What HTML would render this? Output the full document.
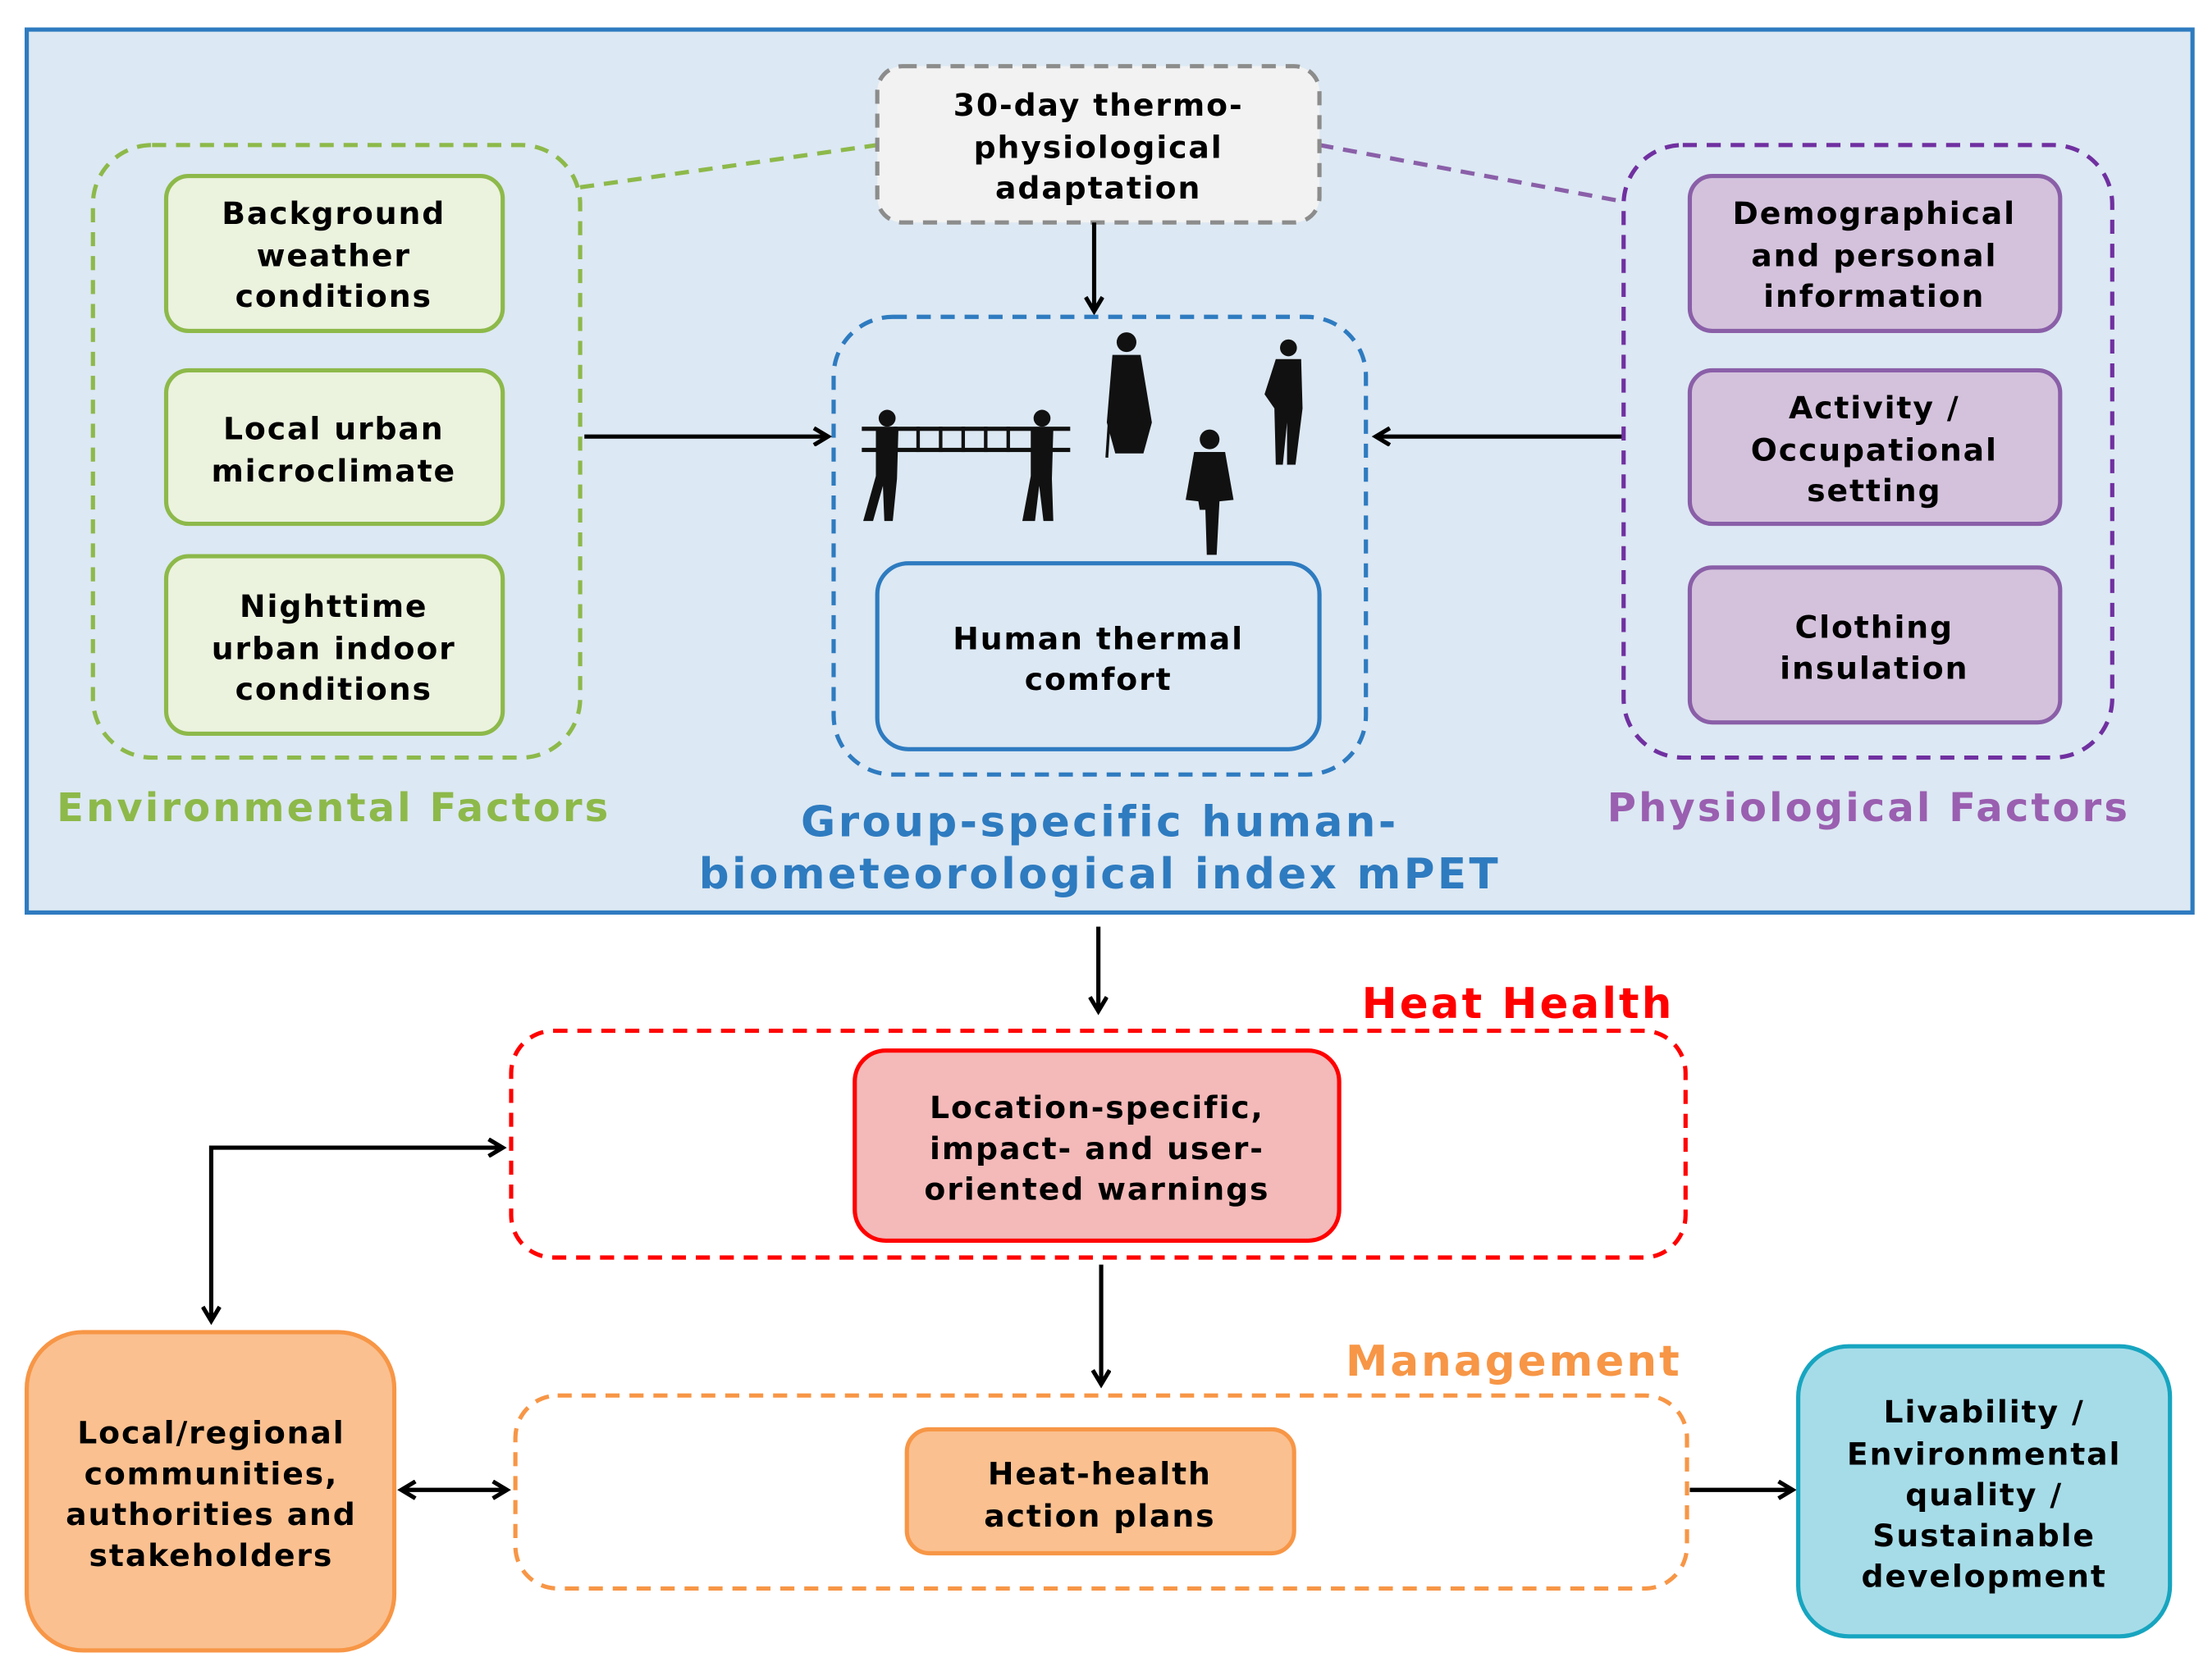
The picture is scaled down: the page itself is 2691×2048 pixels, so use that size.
<!DOCTYPE html>
<html><head><meta charset="utf-8"><style>
html,body{margin:0;padding:0;background:#fff;}
svg{display:block;}
text{font-family:"DejaVu Sans","Liberation Sans",sans-serif;font-weight:bold;text-anchor:middle;letter-spacing:1.1px;}
.t{letter-spacing:1.8px;}
</style></head><body>
<svg width="2691" height="2048" viewBox="0 0 1568 1193" preserveAspectRatio="none" xmlns="http://www.w3.org/2000/svg">
<defs>
<marker id="ah" markerWidth="14" markerHeight="14" refX="11" refY="7" orient="auto-start-reverse" markerUnits="userSpaceOnUse">
<path d="M1,1 L11,7 L1,13" fill="none" stroke="#000" stroke-width="3"/>
</marker>
</defs>
<rect x="0" y="0" width="1568" height="1193" fill="#fff"/>
<rect x="19" y="21" width="1538" height="627" fill="#dce8f3" stroke="#2e7bc0" stroke-width="3"/>

<line x1="412" y1="133" x2="623" y2="103" stroke="#8db94a" stroke-width="3" stroke-dasharray="10,7"/>
<line x1="937" y1="103" x2="1152" y2="143" stroke="#8a5fa8" stroke-width="3" stroke-dasharray="10,7"/>

<rect x="66" y="103" width="346" height="435" rx="42" fill="none" stroke="#8db94a" stroke-width="3" stroke-dasharray="10,7"/>
<g fill="#ebf2de" stroke="#8db94a" stroke-width="3">
<rect x="118" y="125" width="239" height="110" rx="16"/>
<rect x="118" y="263" width="239" height="109" rx="16"/>
<rect x="118" y="395" width="239" height="126" rx="16"/>
</g>
<g font-size="22" fill="#000">
<text x="237" y="159">Background</text><text x="237" y="189">weather</text><text x="237" y="218">conditions</text>
<text x="237" y="312">Local urban</text><text x="237" y="342">microclimate</text>
<text x="237" y="438">Nighttime</text><text x="237" y="468">urban indoor</text><text x="237" y="497">conditions</text>
</g>
<text class="t" x="237" y="583" font-size="28" fill="#8db94a">Environmental Factors</text>

<rect x="623" y="47" width="314" height="111" rx="18" fill="#f2f2f2" stroke="#8c8c8c" stroke-width="3" stroke-dasharray="10,7"/>
<g font-size="22" fill="#000">
<text x="780" y="82">30-day thermo-</text><text x="780" y="112">physiological</text><text x="780" y="141">adaptation</text>
</g>
<line x1="777" y1="158" x2="777" y2="221" stroke="#000" stroke-width="3" marker-end="url(#ah)"/>

<rect x="592" y="225" width="378" height="325" rx="42" fill="none" stroke="#2e7bc0" stroke-width="3" stroke-dasharray="10,7"/>
<rect x="623" y="400" width="314" height="132" rx="22" fill="#dce8f3" stroke="#2e7bc0" stroke-width="3"/>
<g font-size="22" fill="#000"><text x="780" y="461">Human thermal</text><text x="780" y="490">comfort</text></g>
<g fill="#111" stroke="#111">
<rect x="612" y="303" width="148" height="3" stroke="none"/><rect x="612" y="318" width="148" height="3" stroke="none"/>
<g stroke-width="2.5"><line x1="636" y1="303" x2="636" y2="321"/><line x1="652" y1="303" x2="652" y2="321"/><line x1="668" y1="303" x2="668" y2="321"/><line x1="684" y1="303" x2="684" y2="321"/><line x1="700" y1="303" x2="700" y2="321"/><line x1="716" y1="303" x2="716" y2="321"/></g>
<circle cx="630" cy="297" r="6" stroke="none"/><path d="M622,305 L638,305 L637,340 L634,370 L628,370 L627,345 L620,370 L613,370 L622,338 Z" stroke="none"/>
<circle cx="740" cy="297" r="6" stroke="none"/><path d="M732,305 L748,305 L747,340 L748,370 L741,370 L738,345 L735,370 L726,370 L732,338 Z" stroke="none"/>
<circle cx="800" cy="243" r="7" stroke="none"/><path d="M790,252 L810,252 L818,300 L812,322 L792,322 L786,300 Z" stroke="none"/><line x1="788" y1="295" x2="786" y2="325" stroke-width="2"/>
<circle cx="915" cy="247" r="6" stroke="none"/><path d="M906,255 L924,255 L925,290 L920,330 L914,330 L914,300 L911,330 L906,330 L905,290 L898,280 Z" stroke="none"/>
<circle cx="859" cy="312" r="7" stroke="none"/><path d="M848,321 L870,321 L876,355 L866,356 L864,394 L857,394 L856,362 L852,362 L851,356 L842,355 Z" stroke="none"/>
</g>
<text class="t" x="781" y="594" font-size="30" fill="#2e7bc0" style="letter-spacing:2px">Group-specific human-</text>
<text class="t" x="781" y="631" font-size="30" fill="#2e7bc0" style="letter-spacing:2px">biometeorological index mPET</text>

<line x1="415" y1="310" x2="588" y2="310" stroke="#000" stroke-width="3" marker-end="url(#ah)"/>
<line x1="1152" y1="310" x2="977" y2="310" stroke="#000" stroke-width="3" marker-end="url(#ah)"/>

<rect x="1153" y="103" width="347" height="435" rx="42" fill="none" stroke="#7030a0" stroke-width="3" stroke-dasharray="10,7"/>
<g fill="#d4c2dc" stroke="#8a5fa8" stroke-width="3">
<rect x="1200" y="125" width="263" height="110" rx="16"/>
<rect x="1200" y="263" width="263" height="109" rx="16"/>
<rect x="1200" y="403" width="263" height="110" rx="16"/>
</g>
<g font-size="22" fill="#000">
<text x="1331" y="159">Demographical</text><text x="1331" y="189">and personal</text><text x="1331" y="218">information</text>
<text x="1331" y="297">Activity /</text><text x="1331" y="327">Occupational</text><text x="1331" y="356">setting</text>
<text x="1331" y="453">Clothing</text><text x="1331" y="482">insulation</text>
</g>
<text class="t" x="1327" y="583" font-size="28" fill="#9a5fb0">Physiological Factors</text>

<line x1="780" y1="658" x2="780" y2="718" stroke="#000" stroke-width="3" marker-end="url(#ah)"/>
<text class="t" x="1078" y="723" font-size="30" fill="#ff0000">Heat Health</text>
<rect x="363" y="732" width="834" height="161" rx="30" fill="none" stroke="#ff0000" stroke-width="3" stroke-dasharray="10,7"/>
<rect x="607" y="746" width="344" height="135" rx="22" fill="#f4b9b9" stroke="#ff0000" stroke-width="3"/>
<g font-size="22" fill="#000"><text x="779" y="794">Location-specific,</text><text x="779" y="823">impact- and user-</text><text x="779" y="852">oriented warnings</text></g>
<path d="M150,938 L150,815 L357,815" fill="none" stroke="#000" stroke-width="3" marker-start="url(#ah)" marker-end="url(#ah)"/>
<line x1="782" y1="898" x2="782" y2="983" stroke="#000" stroke-width="3" marker-end="url(#ah)"/>
<text class="t" x="1075" y="977" font-size="30" fill="#f79646">Management</text>
<rect x="366" y="991" width="832" height="137" rx="30" fill="none" stroke="#f79646" stroke-width="3" stroke-dasharray="10,7"/>
<rect x="644" y="1015" width="275" height="88" rx="16" fill="#fac090" stroke="#f79646" stroke-width="3"/>
<g font-size="22" fill="#000"><text x="781" y="1054">Heat-health</text><text x="781" y="1084">action plans</text></g>
<rect x="19" y="946" width="261" height="226" rx="40" fill="#fac090" stroke="#f79646" stroke-width="3"/>
<g font-size="22" fill="#000"><text x="150" y="1025">Local/regional</text><text x="150" y="1054">communities,</text><text x="150" y="1083">authorities and</text><text x="150" y="1112">stakeholders</text></g>
<line x1="285" y1="1058" x2="360" y2="1058" stroke="#000" stroke-width="3" marker-start="url(#ah)" marker-end="url(#ah)"/>
<line x1="1200" y1="1058" x2="1273" y2="1058" stroke="#000" stroke-width="3" marker-end="url(#ah)"/>
<rect x="1277" y="956" width="264" height="206" rx="36" fill="#a6dce8" stroke="#17a5c0" stroke-width="3"/>
<g font-size="22" fill="#000"><text x="1409" y="1010">Livability /</text><text x="1409" y="1040">Environmental</text><text x="1409" y="1069">quality /</text><text x="1409" y="1098">Sustainable</text><text x="1409" y="1127">development</text></g>
</svg>
</body></html>
